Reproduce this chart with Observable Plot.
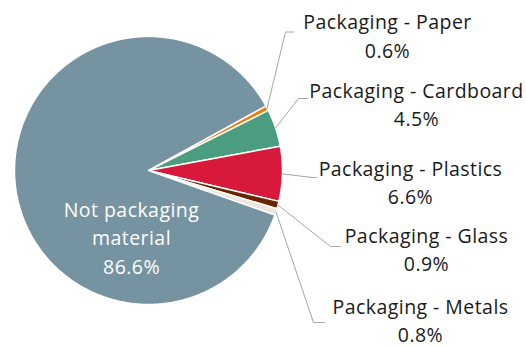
<!DOCTYPE html>
<html>
<head>
<meta charset="utf-8">
<script src="https://cdn.jsdelivr.net/npm/d3@7"></script>
<script src="https://cdn.jsdelivr.net/npm/@observablehq/plot@0.6"></script>
<style>
  html, body { margin: 0; padding: 0; background: #fff; }
  #chart svg { display: block; }
  #chart text { letter-spacing: 0.45px; }
</style>
</head>
<body>
<div id="chart"></div>
<script>
// ---- data ----
const categories = ["Packaging - Paper", "Packaging - Cardboard", "Packaging - Plastics", "Packaging - Glass", "Packaging - Metals", "Not packaging material"];
const shares = [0.6, 4.5, 6.6, 0.9, 0.8, 86.6];
const valueLabels = ["0.6%", "4.5%", "6.6%", "0.9%", "0.8%", "86.6%"];
const colors = ["#F07F09", "#4A9E7F", "#D71A3C", "#6B2400", "#ECE6DB", "#7593A1"];

// ---- layout (pixels) ----
const W = 526, H = 346;
const cx = 148, cy = 170, R = 134;
const startDeg = 61.2; // clockwise from north
// callout elbows / ends and label baselines (pixels)
const callouts = [
  {elbow: [285, 31.5], end: [293, 31.5], tx: 387, base: 28.5},
  {elbow: [298, 98], end: [307, 98], tx: 416, base: 97},
  {elbow: [311.5, 177], end: [316, 177], tx: 410, base: 175},
  {elbow: [330, 246], end: [340, 246], tx: 426, base: 242},
  {elbow: [313, 322], end: [324, 322], tx: 420, base: 313}
];
const mainLabel = {tx: 131, base: 216};
const fs = 19.5, lineGap = 28.6;

const ux = px => (px - cx) / R;
const uy = py => (cy - py) / R;

const pie = d3.pie().sort(null).value(d => d.value)
  .startAngle(startDeg * Math.PI / 180)
  .endAngle(startDeg * Math.PI / 180 + 2 * Math.PI);
const arcs = pie(categories.map((c, i) => ({name: c, value: shares[i], label: valueLabels[i]})));

// slice outlines sampled along arcs
const slicePts = [];
arcs.forEach(a => {
  const n = Math.max(2, Math.ceil((a.endAngle - a.startAngle) / (Math.PI / 360)));
  slicePts.push({name: a.data.name, x: 0, y: 0});
  for (let k = 0; k <= n; k++) {
    const t = a.startAngle + (a.endAngle - a.startAngle) * k / n;
    slicePts.push({name: a.data.name, x: Math.sin(t), y: Math.cos(t)});
  }
  slicePts.push({name: a.data.name, x: 0, y: 0});
});

// leader lines
const leaderPts = [];
const labelRows = [];
callouts.forEach((c, i) => {
  const a = arcs[i];
  const mid = (a.startAngle + a.endAngle) / 2;
  leaderPts.push({id: i, x: Math.sin(mid), y: Math.cos(mid)});
  leaderPts.push({id: i, x: ux(c.elbow[0]), y: uy(c.elbow[1])});
  leaderPts.push({id: i, x: ux(c.end[0]), y: uy(c.end[1])});
  labelRows.push({x: ux(c.tx), y: uy(c.base - 0.71 * lineGap), text: a.data.name + "\n" + a.data.label});
});
const mainRow = {x: ux(mainLabel.tx), y: uy(mainLabel.base - 0.71 * lineGap), text: "Not packaging\nmaterial\n" + arcs[5].data.label};

const chart = Plot.plot({
  width: W,
  height: H,
  margin: 0,
  x: {domain: [ux(0), ux(W)], range: [0, W], axis: null},
  y: {domain: [uy(H), uy(0)], range: [H, 0], axis: null},
  color: {domain: categories, range: colors},
  style: {fontFamily: "'Open Sans', sans-serif", background: "white"},
  marks: [
    Plot.line(slicePts, {x: "x", y: "y", z: "name", fill: "name", stroke: "white", strokeWidth: 1.5, strokeLinejoin: "round", curve: "linear"}),
    Plot.line(leaderPts, {x: "x", y: "y", z: "id", stroke: "#A6A6A6", strokeWidth: 1}),
    Plot.text(labelRows, {x: "x", y: "y", text: "text", lineAnchor: "top", lineHeight: lineGap / fs, fontSize: fs, fill: "#1a1a1a", textAnchor: "middle"}),
    Plot.text([mainRow], {x: "x", y: "y", text: "text", lineAnchor: "top", lineHeight: lineGap / fs, fontSize: fs, fill: "white", textAnchor: "middle"})
  ]
});
document.getElementById("chart").appendChild(chart);
</script>
</body>
</html>
